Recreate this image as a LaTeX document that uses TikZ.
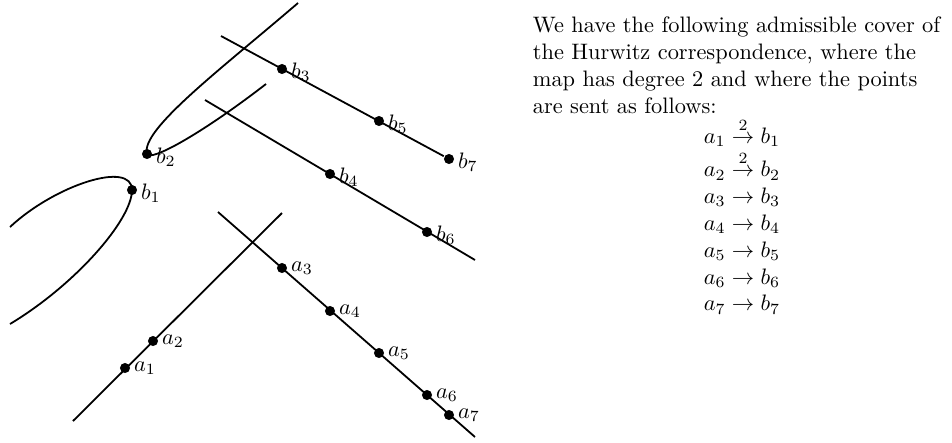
\documentclass[tikz,border=0pt]{standalone}
\usepackage{amsmath,amssymb}
\usepackage{tikz}
\usetikzlibrary{positioning,calc}

\begin{document}
\begin{tikzpicture}[x=0.447pt,y=-0.447pt,thick,
  dot/.style={circle,fill=black,inner sep=0pt,minimum size=4.5pt},
  lab/.style={inner sep=0.5pt}]
\useasboundingbox (0,0) rectangle (952,442);
% --- the b-side ---
\node[dot] (b1) at (132,190) {};
\node[dot] (b2) at (147,154) {};
\foreach \n/\x/\y in {3/282/69,5/379/121,7/449/159,4/330/174,6/427/232}
  \node[dot] (b\n) at (\x,\y) {};
\foreach \n in {1,...,7} \node[lab,right=0.5pt of b\n,yshift=-1.5pt] {$b_\n$};
\coordinate (bs) at (221,36);
\coordinate (bt) at (205,100);
\coordinate (be) at (475,260);
\draw (bs) -- (b7);
\draw (bt) -- (be);
\draw (298,3) .. controls (220,70) and (140,130) .. (b2.center)
  .. controls (150,162) and (200,135) .. (266,84);
\draw (10,227) .. controls (55,185) and (132,160) .. (b1.center)
  .. controls (132,220) and (75,285) .. (10,324);
% --- the a-side ---
\foreach \n/\x/\y in {1/125/368,2/153/341,3/282/268,4/330/311,5/379/353,6/427/395,7/449/415}
  \node[dot] (a\n) at (\x,\y) {};
\foreach \n in {1,...,7} \node[lab,right=0.5pt of a\n] {$a_\n$};
\coordinate (as) at (73,421);
\coordinate (ae) at (282,213);
\coordinate (at) at (218,212);
\coordinate (af) at (475,437);
\draw (as) -- (ae);
\draw (at) -- (af);
% --- text ---
\node[anchor=north west,inner sep=0pt,text width=187pt,align=left] (intro) at (532,16)
  {We have the following admissible cover of the Hurwitz correspondence, where the map has degree 2 and where the points are sent as follows:};
\node[below=1.5pt of intro,inner sep=0pt] (maps) {$\begin{array}{c}
  a_1 \stackrel{2}{\to} b_1\\
  a_2 \stackrel{2}{\to} b_2\\
  a_3 \to b_3\\
  a_4 \to b_4\\
  a_5 \to b_5\\
  a_6 \to b_6\\
  a_7 \to b_7
\end{array}$};
\end{tikzpicture}
\end{document}
